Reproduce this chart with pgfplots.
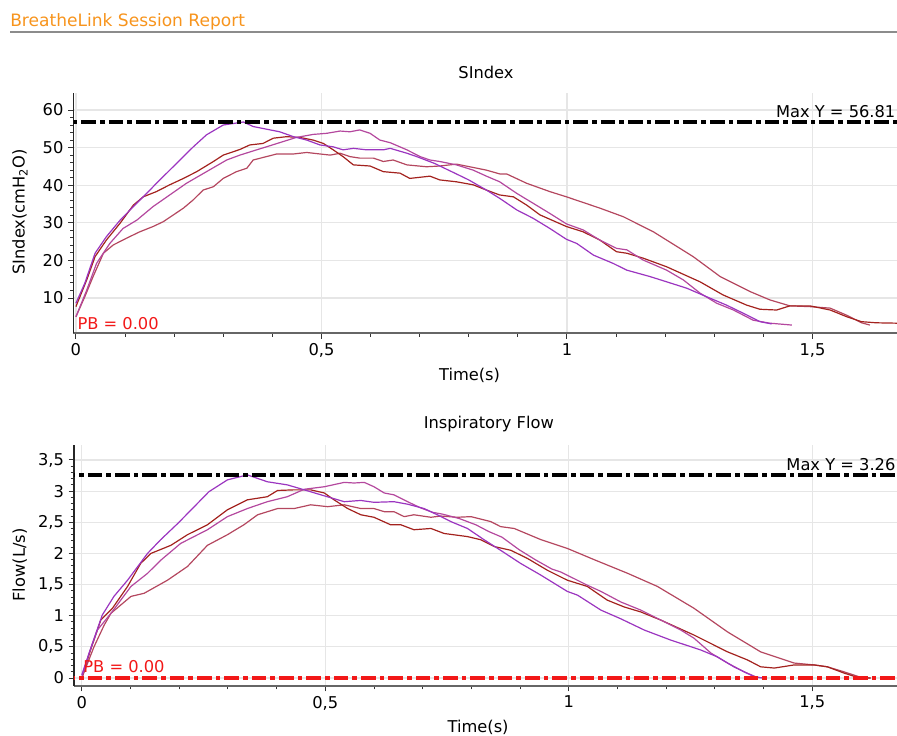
\documentclass[border=0pt]{standalone}
\usepackage{fontspec}
\setmainfont{DejaVu Sans}
\usepackage{pgfplots}
\pgfplotsset{compat=1.18}

\definecolor{hdrorange}{HTML}{F7941D}
\definecolor{hdrrule}{HTML}{8C8C8C}
\definecolor{cA}{HTML}{9B35C0}
\definecolor{cB}{HTML}{A3221E}
\definecolor{cC}{HTML}{B4489E}
\definecolor{cD}{HTML}{B4475F}
\definecolor{pbred}{HTML}{F21818}
\definecolor{gridgray}{HTML}{E6E6E6}

\newcommand{\lblfont}{\fontsize{12.2}{14}\selectfont}

\pgfplotsset{
  every axis title shift=0pt,
  breathe/.style={
    scale only axis,
    anchor=south west,
    axis lines=left,
    axis line style={-},
    x axis line style={draw=black!60, line width=1.5pt},
    y axis line style={draw=black!85, line width=0.8pt},
    tick align=outside,
    major tick length=4pt,
    minor tick length=2.5pt,
    tick style={black!80, line width=0.7pt},
    xtick={0,0.5,1,1.5},
    minor x tick num=4,
    minor y tick num=4,
    grid=major,
    grid style={gridgray, line width=0.9pt},
    /pgf/number format/use comma,
    /pgf/number format/assume math mode=true,
    tick label style={font=\lblfont},
    label style={font=\lblfont},
  },
  curve/.style={line width=0.9pt, line join=round},
  maxline/.style={black, line width=2.6pt, dash pattern=on 11pt off 3pt on 3.5pt off 3pt},
  pbline/.style={pbred, line width=2.6pt, dash pattern=on 11pt off 3pt on 3.5pt off 3pt},
}

\begin{document}
\begin{tikzpicture}
\useasboundingbox (0,0) rectangle (672.75pt,552pt);

% header
\node[anchor=west, text=hdrorange, inner sep=0pt, font=\fontsize{12.8}{15}\selectfont] at (7.5pt,535.5pt) {BreatheLink Session Report};
\draw[hdrrule, line width=1.2pt] (7.5pt,528pt) -- (672.75pt,528pt);

% SIndex
\begin{axis}[breathe,
  at={(55.1pt,302pt)}, width=617.6pt, height=180.2pt,
  xmin=-0.005, xmax=1.672, ymin=0.6, ymax=64.5,
  ytick={10,20,...,60},
  title={SIndex},
  title style={at={(axis description cs:0.501,1.087)}, anchor=center, font=\lblfont},
  xlabel={Time(s)},
  xlabel style={at={(axis description cs:0.481,-0.174)}, anchor=center},
  ylabel={SIndex(cmH\textsubscript{2}O)},
  ylabel style={at={(axis description cs:-0.065,0.505)}, anchor=center},
]
\addplot[curve, cD] coordinates {
(0,5.0) (0.018,10.3) (0.035,15.7) (0.056,21.9) (0.076,24.1) (0.103,25.9) (0.13,27.6) (0.157,29.0) (0.178,30.3) (0.219,33.9) (0.239,36.1) (0.259,38.7) (0.28,39.6) (0.30,41.8) (0.327,43.6) (0.348,44.5) (0.361,46.7) (0.388,47.6) (0.409,48.3) (0.443,48.3) (0.47,48.7) (0.497,48.3) (0.518,48.0) (0.538,48.5) (0.558,47.6) (0.578,47.2) (0.606,47.2) (0.626,46.3) (0.646,46.7) (0.674,45.4) (0.714,44.9) (0.741,45.1) (0.775,45.6) (0.802,44.9) (0.836,44.0) (0.863,43.0) (0.877,43.0) (0.918,40.5) (0.965,38.3) (0.999,36.9) (1.067,33.9) (1.115,31.6) (1.176,27.6) (1.257,21.0) (1.312,15.7) (1.373,11.7) (1.413,9.5) (1.454,7.9) (1.495,7.7) (1.536,7.3) (1.57,5.4) (1.60,3.4) (1.617,2.8)
};
\addplot[curve, cB] coordinates {
(0,7.7) (0.022,14.8) (0.039,21.0) (0.062,25.4) (0.09,29.9) (0.117,34.7) (0.137,36.9) (0.164,38.3) (0.191,40.1) (0.219,41.8) (0.246,43.6) (0.28,46.3) (0.30,48.0) (0.334,49.5) (0.354,50.7) (0.381,51.1) (0.402,52.5) (0.429,52.9) (0.456,52.7) (0.483,52.0) (0.504,51.1) (0.524,49.4) (0.544,47.6) (0.565,45.4) (0.599,45.1) (0.626,43.6) (0.66,43.2) (0.68,41.8) (0.721,42.4) (0.741,41.4) (0.775,40.9) (0.809,40.1) (0.836,38.7) (0.863,37.4) (0.891,36.9) (0.918,34.7) (0.945,32.1) (0.999,29.0) (1.033,27.6) (1.067,25.4) (1.101,22.3) (1.122,21.9) (1.155,20.6) (1.203,18.3) (1.271,14.3) (1.318,10.8) (1.366,8.1) (1.393,7.0) (1.427,6.8) (1.454,7.9) (1.495,7.9) (1.536,6.8) (1.57,5.0) (1.60,3.7) (1.63,3.4) (1.672,3.3)
};
\addplot[curve, cC] coordinates {
(0,5.0) (0.022,12.1) (0.042,19.2) (0.069,24.5) (0.096,28.5) (0.124,30.7) (0.157,34.3) (0.191,37.4) (0.225,40.5) (0.266,43.6) (0.307,46.7) (0.334,48.0) (0.368,49.4) (0.388,50.2) (0.422,51.6) (0.449,52.7) (0.483,53.5) (0.511,53.8) (0.538,54.4) (0.558,54.2) (0.578,54.7) (0.599,53.8) (0.619,52.0) (0.64,51.3) (0.674,49.4) (0.701,47.6) (0.721,46.7) (0.741,46.3) (0.775,45.4) (0.809,44.0) (0.836,42.4) (0.863,40.9) (0.898,37.8) (0.931,35.2) (0.965,32.5) (0.999,29.7) (1.033,28.1) (1.067,25.4) (1.101,23.2) (1.122,22.8) (1.155,20.1) (1.203,17.4) (1.237,14.8) (1.271,11.3) (1.305,8.6) (1.339,6.8) (1.379,4.1) (1.413,3.3) (1.458,2.8)
};
\addplot[curve, cA] coordinates {
(0,8.6) (0.018,13.9) (0.039,21.9) (0.062,26.3) (0.09,30.7) (0.117,34.3) (0.144,37.8) (0.164,40.5) (0.198,44.9) (0.239,50.2) (0.266,53.4) (0.30,56.0) (0.341,56.81) (0.361,55.6) (0.388,54.9) (0.415,54.2) (0.443,52.9) (0.47,52.0) (0.497,50.7) (0.524,50.2) (0.544,49.4) (0.565,49.8) (0.592,49.4) (0.626,49.4) (0.64,49.8) (0.674,48.5) (0.694,47.6) (0.73,45.8) (0.77,43.3) (0.80,41.4) (0.836,38.7) (0.863,36.5) (0.898,33.4) (0.931,31.2) (0.965,28.5) (0.999,25.6) (1.02,24.5) (1.054,21.4) (1.094,19.2) (1.122,17.4) (1.169,15.7) (1.203,14.3) (1.244,12.6) (1.285,10.3) (1.325,8.1) (1.366,5.5) (1.393,3.7) (1.417,3.1)
};
\addplot[maxline] coordinates {(-0.1,56.81) (1.8,56.81)};
\node[anchor=south east, inner sep=1pt, yshift=2pt, font=\lblfont] at (axis cs:1.672,56.81) {Max Y = 56.81};
\node[anchor=south west, inner sep=1pt, yshift=1.5pt, text=pbred, font=\lblfont] at (axis cs:0,0.6) {PB = 0.00};
\end{axis}

% Inspiratory Flow
\begin{axis}[breathe,
  at={(55.5pt,37.5pt)}, width=617.25pt, height=180.75pt,
  xmin=-0.016, xmax=1.674, ymin=-0.128, ymax=3.74,
  ytick={0,0.5,...,3.5},
  title={Inspiratory Flow},
  title style={at={(axis description cs:0.504,1.087)}, anchor=center, font=\lblfont},
  xlabel={Time(s)},
  xlabel style={at={(axis description cs:0.491,-0.17)}, anchor=center},
  ylabel={Flow(L/s)},
  ylabel style={at={(axis description cs:-0.066,0.502)}, anchor=center},
]
\addplot[curve, cD] coordinates {
(0,0) (0.025,0.50) (0.046,0.85) (0.06,1.04) (0.101,1.31) (0.128,1.36) (0.176,1.57) (0.217,1.79) (0.258,2.13) (0.299,2.30) (0.333,2.46) (0.361,2.62) (0.402,2.72) (0.436,2.72) (0.47,2.78) (0.505,2.75) (0.539,2.78) (0.573,2.72) (0.60,2.72) (0.621,2.67) (0.641,2.67) (0.662,2.59) (0.682,2.62) (0.717,2.58) (0.737,2.60) (0.771,2.58) (0.799,2.59) (0.84,2.51) (0.86,2.43) (0.888,2.40) (0.943,2.22) (0.997,2.08) (1.052,1.90) (1.121,1.68) (1.182,1.47) (1.257,1.12) (1.326,0.74) (1.394,0.42) (1.463,0.24) (1.504,0.21) (1.531,0.18) (1.565,0.10) (1.60,0.01) (1.62,0)
};
\addplot[curve, cB] coordinates {
(0,0) (0.018,0.45) (0.039,0.93) (0.063,1.12) (0.094,1.47) (0.121,1.84) (0.142,2.0) (0.183,2.13) (0.217,2.30) (0.258,2.46) (0.299,2.70) (0.34,2.86) (0.381,2.91) (0.402,3.01) (0.436,3.02) (0.47,3.02) (0.498,2.97) (0.518,2.86) (0.546,2.72) (0.573,2.62) (0.60,2.58) (0.634,2.46) (0.655,2.46) (0.682,2.38) (0.717,2.40) (0.744,2.32) (0.792,2.27) (0.819,2.22) (0.847,2.11) (0.881,2.05) (0.915,1.92) (0.956,1.73) (0.997,1.57) (1.038,1.47) (1.079,1.25) (1.114,1.14) (1.148,1.06) (1.189,0.93) (1.257,0.69) (1.326,0.42) (1.367,0.29) (1.394,0.18) (1.422,0.16) (1.463,0.21) (1.504,0.21) (1.531,0.18) (1.565,0.08) (1.593,0.01) (1.62,0)
};
\addplot[curve, cC] coordinates {
(0,0) (0.015,0.40) (0.032,0.77) (0.06,1.04) (0.101,1.47) (0.135,1.68) (0.162,1.89) (0.203,2.16) (0.258,2.38) (0.299,2.59) (0.34,2.72) (0.381,2.83) (0.422,2.91) (0.457,3.03) (0.498,3.07) (0.539,3.14) (0.559,3.13) (0.58,3.14) (0.60,3.07) (0.621,2.97) (0.641,2.94) (0.669,2.83) (0.696,2.73) (0.72,2.66) (0.741,2.63) (0.775,2.56) (0.809,2.46) (0.836,2.35) (0.863,2.26) (0.898,2.06) (0.931,1.90) (0.965,1.75) (0.984,1.70) (1.038,1.49) (1.066,1.39) (1.107,1.22) (1.148,1.09) (1.189,0.93) (1.23,0.77) (1.257,0.64) (1.292,0.40) (1.326,0.24) (1.36,0.10) (1.387,0.01) (1.40,0)
};
\addplot[curve, cA] coordinates {
(0,0.05) (0.022,0.56) (0.042,1.01) (0.066,1.31) (0.094,1.57) (0.135,2.0) (0.162,2.22) (0.197,2.48) (0.231,2.75) (0.261,2.99) (0.299,3.18) (0.34,3.26) (0.381,3.15) (0.422,3.10) (0.457,3.02) (0.491,2.94) (0.539,2.83) (0.573,2.85) (0.60,2.82) (0.641,2.83) (0.669,2.79) (0.703,2.72) (0.73,2.62) (0.758,2.51) (0.792,2.40) (0.826,2.22) (0.86,2.05) (0.901,1.84) (0.943,1.65) (0.997,1.39) (1.018,1.33) (1.066,1.09) (1.107,0.95) (1.155,0.77) (1.209,0.61) (1.271,0.45) (1.305,0.34) (1.339,0.18) (1.381,0.02) (1.40,0)
};
\addplot[maxline] coordinates {(-0.1,3.26) (1.8,3.26)};
\addplot[pbline] coordinates {(-0.1,0) (1.8,0)};
\node[anchor=south east, inner sep=1pt, yshift=2pt, font=\lblfont] at (axis cs:1.674,3.26) {Max Y = 3.26};
\node[anchor=south west, inner sep=1pt, yshift=3pt, text=pbred, font=\lblfont] at (axis cs:0,0) {PB = 0.00};
\end{axis}
\end{tikzpicture}
\end{document}
